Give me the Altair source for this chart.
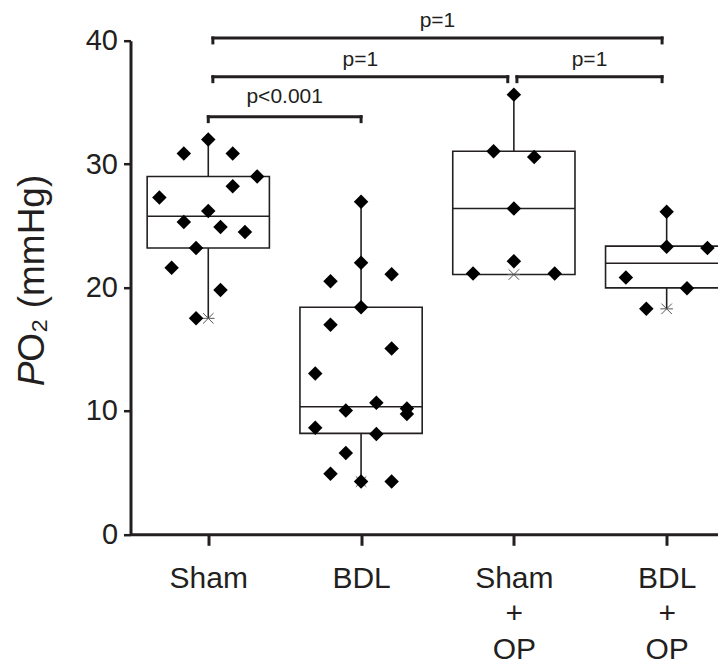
import altair as alt
import pandas as pd

# ---------------- data ----------------
groups = ["Sham", "BDL", "Sham+OP", "BDL+OP"]
tick_lines = [["Sham"], ["BDL"], ["Sham", "+", "OP"], ["BDL", "+", "OP"]]

sham_po2 = [32.0, 30.85, 30.85, 29.0, 28.2, 27.3, 26.2, 25.3, 24.9, 24.5, 23.2, 21.6, 19.8, 17.5]
sham_jit = [0, -0.16, 0.16, 0.32, 0.16, -0.32, 0, -0.16, 0.08, 0.24, -0.08, -0.24, 0.08, -0.08]

bdl_po2 = [26.94, 22.0, 21.08, 20.5, 18.4, 16.98, 15.06, 13.04, 10.66, 10.04, 10.2, 9.74,
           8.64, 8.12, 6.58, 4.91, 4.27, 4.27]
bdl_jit = [0, 0, 0.2, -0.2, 0, -0.2, 0.2, -0.3, 0.1, -0.1, 0.3, 0.3, -0.3, 0.1, -0.1, -0.2, 0, 0.2]

shamop_po2 = [35.63, 31.04, 30.58, 26.4, 22.13, 21.13, 21.13]
shamop_jit = [0, -0.133, 0.133, 0, 0, -0.267, 0.267]

bdlop_po2 = [26.13, 23.3, 23.21, 20.81, 19.94, 18.27]
bdlop_jit = [0, 0, 0.267, -0.267, 0.133, -0.133]

box_q1 = [23.2, 8.18, 21.05, 19.97]
box_median = [25.77, 10.34, 26.4, 21.97]
box_q3 = [29.0, 18.4, 31.04, 23.35]
whisker_lo = [17.5, 4.27, 21.05, 18.27]
whisker_hi = [32.0, 26.94, 35.63, 26.13]

# significance brackets (group positions 1..4)
br_from = [1.03, 1.03, 3.02, 1.0]
br_to = [3.97, 2.96, 3.97, 2.0]
br_level = [40.22, 37.08, 37.08, 33.84]
br_text = ["p=1", "p=1", "p=1", "p<0.001"]
br_text_level = [41.1, 37.91, 37.91, 34.99]

# ---------------- tables ----------------
series = [sham_po2, bdl_po2, shamop_po2, bdlop_po2]
jitters = [sham_jit, bdl_jit, shamop_jit, bdlop_jit]
rows = []
for gi, (vals, jit) in enumerate(zip(series, jitters)):
    for v, j in zip(vals, jit):
        rows.append({"group": groups[gi], "pos": gi + 1 + j, "po2": v})
points = pd.DataFrame(rows)

half = 0.4
boxes = pd.DataFrame({
    "group": groups,
    "pos": [i + 1 for i in range(len(groups))],
    "left": [i + 1 - half for i in range(len(groups))],
    "right": [i + 1 + half for i in range(len(groups))],
    "q1": box_q1, "med": box_median, "q3": box_q3,
    "wlo": whisker_lo, "whi": whisker_hi,
})

brackets = pd.DataFrame({
    "x1": br_from, "x2": br_to, "y": br_level,
    "ydrop": [v - 0.4 for v in br_level],
    "mid": [(a + b) / 2 for a, b in zip(br_from, br_to)],
    "label": br_text, "ly": br_text_level,
})

# ---------------- scales / axes ----------------
INK = "#231f20"
FONT = "Liberation Sans"

xscale = alt.Scale(domain=[0.491, 4.336], nice=False, zero=False)
yscale = alt.Scale(domain=[0, 40], nice=False, zero=False)

expr_items = []
for lines in tick_lines:
    expr_items.append("[" + ",".join("'" + s + "'" for s in lines) + "]")
label_expr = "[" + ",".join(expr_items) + "][datum.value - 1]"

x_axis = alt.Axis(values=[1, 2, 3, 4], labelExpr=label_expr, grid=False,
                  domainColor=INK, domainWidth=3, tickColor=INK, tickWidth=3,
                  tickSize=11, labelFont=FONT, labelFontSize=30, labelColor=INK,
                  labelPadding=18, labelLineHeight=35.5, labelFlush=False,
                  labelOverlap=False, title=None)
y_axis = alt.Axis(values=[0, 10, 20, 30, 40], grid=False, domainColor=INK,
                  domainWidth=3, tickColor=INK, tickWidth=2.5, tickSize=7,
                  labelFont=FONT, labelFontSize=29, labelColor=INK,
                  labelPadding=6, title=None)


def X(f):
    return alt.X(f, type="quantitative", scale=xscale, axis=x_axis)


def Y(f):
    return alt.Y(f, type="quantitative", scale=yscale, axis=y_axis)


box_layer = alt.Chart(boxes).mark_rect(fill="white", stroke=INK, strokeWidth=1.6, clip=True).encode(
    x=X("left"), x2="right", y=Y("q1"), y2="q3")

median_layer = alt.Chart(boxes).mark_rule(color=INK, strokeWidth=1.6, clip=True).encode(
    x=X("left"), x2="right", y=Y("med"))

whisk_hi_layer = alt.Chart(boxes).mark_rule(color=INK, strokeWidth=1.6).encode(
    x=X("pos"), y=Y("q3"), y2="whi")
whisk_lo_layer = alt.Chart(boxes).mark_rule(color=INK, strokeWidth=1.6).encode(
    x=X("pos"), y=Y("wlo"), y2="q1")

star_layer = alt.Chart(boxes).mark_point(
    shape="M-1,-1L1,1M-1,1L1,-1M-1.2,0L1.2,0", size=110, filled=False,
    stroke="#555555", strokeWidth=1, opacity=1).encode(x=X("pos"), y=Y("wlo"))

point_layer = alt.Chart(points).mark_point(
    shape="diamond", filled=True, size=210, color="#000000", opacity=1).encode(
    x=X("pos"), y=Y("po2"))

br_h = alt.Chart(brackets).mark_rule(color=INK, strokeWidth=3, strokeCap="square").encode(
    x=X("x1"), x2="x2", y=Y("y"))
br_l = alt.Chart(brackets).mark_rule(color=INK, strokeWidth=3, strokeCap="square").encode(
    x=X("x1"), y=Y("y"), y2="ydrop")
br_r = alt.Chart(brackets).mark_rule(color=INK, strokeWidth=3, strokeCap="square").encode(
    x=X("x2"), y=Y("y"), y2="ydrop")
br_t = alt.Chart(brackets).mark_text(font=FONT, fontSize=21, color=INK, baseline="alphabetic",
                                     align="center").encode(
    x=X("mid"), y=Y("ly"), text="label:N")

title_df = pd.DataFrame({"p": ["P"], "rest": ["O\u2082 (mmHg)"]})
title_p = alt.Chart(title_df).mark_text(font=FONT, fontSize=37, fontStyle="italic", color=INK,
                                        angle=270, align="right", baseline="middle").encode(
    x=alt.value(-98), y=alt.value(321), text="p:N")
title_rest = alt.Chart(title_df).mark_text(font=FONT, fontSize=37, color=INK,
                                           angle=270, align="left", baseline="middle").encode(
    x=alt.value(-98), y=alt.value(321), text="rest:N")

chart = alt.layer(
    box_layer, median_layer, whisk_hi_layer, whisk_lo_layer, star_layer, point_layer,
    br_h, br_l, br_r, br_t, title_p, title_rest
).properties(
    width=587.5, height=493.6,
    autosize=alt.AutoSizeParams(type="none"),
    padding={"left": 122.5, "top": 32.7, "right": 0, "bottom": 136},
    background="white",
).configure_view(stroke=None)

chart.save("out.html", embed_options={"renderer": "svg", "actions": False})
